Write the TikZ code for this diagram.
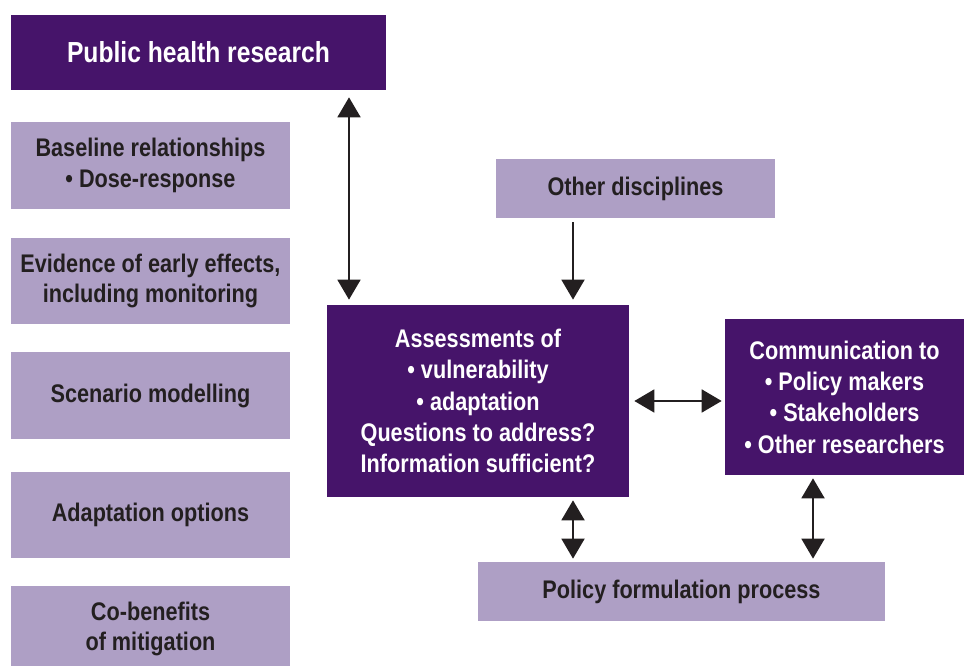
\documentclass[tikz,border=0pt]{standalone}
\usepackage{fontspec}
\setmainfont[FakeStretch=0.85]{Liberation Sans}
\usepackage{tikz}
\usetikzlibrary{arrows.meta,positioning,calc}
\definecolor{plum}{HTML}{46146A}
\definecolor{lilac}{HTML}{AE9FC5}
\definecolor{inkdark}{HTML}{231F20}

\begin{document}
\begin{tikzpicture}[
  darkbox/.style={fill=plum,text=white,font=\fontsize{14.5}{17.8}\selectfont\bfseries,align=center,inner sep=0pt},
  lightbox/.style={fill=lilac,text=inkdark,font=\fontsize{14.5}{17.5}\selectfont\bfseries,align=center,inner sep=0pt},
  tipend/.tip={Triangle[length=0.4cm,width=0.46cm]},
  biarrow/.style={draw=inkdark,line width=1.1pt,tipend-tipend},
  onearrow/.style={draw=inkdark,line width=1.1pt,-tipend}]
  \useasboundingbox (0,0) rectangle (19.28,-13.32);
  % research side
  \node[darkbox,minimum width=7.5cm,minimum height=1.5cm,font=\fontsize{16.5}{19}\selectfont\bfseries] (phr) at (3.97,-1.05) {Public health research};
  \node[lightbox,minimum width=5.58cm,minimum height=1.74cm] (base) at (3.01,-3.31) {Baseline relationships\\\textbullet\ Dose-response};
  \node[lightbox,minimum width=5.58cm,minimum height=1.72cm] (evid) at (3.01,-5.62) {Evidence of early effects,\\including monitoring};
  \node[lightbox,minimum width=5.58cm,minimum height=1.74cm] (scen) at (3.01,-7.91) {Scenario modelling};
  \node[lightbox,minimum width=5.58cm,minimum height=1.72cm] (adapt) at (3.01,-10.30) {Adaptation options};
  \node[lightbox,minimum width=5.58cm,minimum height=1.72cm] (cobe) at (3.01,-12.58) {Co-benefits\\of mitigation};
  % assessment and policy
  \node[lightbox,minimum width=5.58cm,minimum height=1.18cm] (other) at (12.71,-3.77) {Other disciplines};
  \node[darkbox,minimum width=6.04cm,minimum height=3.84cm] (assess) at (9.56,-8.02) {Assessments of\\\textbullet\ vulnerability\\\textbullet\ adaptation\\Questions to address?\\Information sufficient?};
  \node[darkbox,minimum width=4.78cm,minimum height=3.12cm] (comm) at (16.89,-7.94) {Communication to\\\textbullet\ Policy makers\\\textbullet\ Stakeholders\\\textbullet\ Other researchers};
  \node[lightbox,minimum width=8.14cm,minimum height=1.18cm] (policy) at (13.63,-11.83) {Policy formulation process};
  % arrows
  \coordinate (leftcol) at (6.98,0);
  \coordinate (midcol) at (11.46,0);
  \coordinate (rightcol) at (16.26,0);
  \draw[biarrow,shorten <=0.14cm,shorten >=0.1cm] (phr.south -| leftcol) -- (assess.north -| leftcol);
  \draw[onearrow,shorten <=0.08cm,shorten >=0.1cm] (other.south -| midcol) -- (assess.north -| midcol);
  \draw[biarrow,shorten <=0.1cm,shorten >=0.06cm] (assess.east) -- (assess.east -| comm.west);
  \draw[biarrow,shorten <=0.06cm,shorten >=0.06cm] (assess.south -| midcol) -- (policy.north -| midcol);
  \draw[biarrow,shorten <=0.06cm,shorten >=0.06cm] (comm.south -| rightcol) -- (policy.north -| rightcol);
\end{tikzpicture}
\end{document}
